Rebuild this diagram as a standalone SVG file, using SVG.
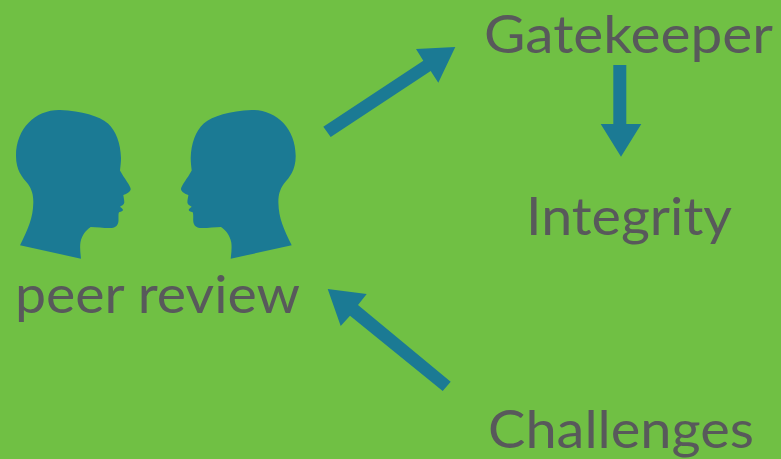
<svg xmlns="http://www.w3.org/2000/svg" width="781" height="459" viewBox="0 0 781 459">
<style>
.bg{fill:#70c044}
.t{fill:#1b7a94}
text{font-family:"Lato","Open Sans","Liberation Sans",sans-serif;font-size:53px;fill:#58595b}
</style>
<defs>
<path id="head" d="M20 245.300L81 258.700C80.300 252 79.700 247 80.500 242C82 235 86 230 90.700 227C97 227 105 228.300 111.700 228C116 227.500 118.500 225 118.500 220C118.500 216 118.300 214 119 212.300C122 211.500 123.500 210.500 122.700 209.300C122 208 120.500 207.500 120 206.700C122 205.500 124.300 204.500 124.300 202.500C124.300 199.500 123.500 197 123.300 195C127 194 130.700 191.500 130.700 189C130.700 186 124 178 120 170.500C120.500 166 121 162 121 158C120.500 143 116 131 108 123.500C99 116 82 111 60 110C36 109.500 16 128 16 156C16 170 22 177 28 184C32 190 33.500 195 33.300 203C33 218 28 229 20 245.300Z"/>
</defs>
<rect class="bg" width="781" height="459"/>
<g id="connectors">
<polygon class="t" points="323.300,126.700 330.700,137 430.700,71 438.300,82.700 455.300,47 416,49 423.300,60.700"/>
<polygon class="t" points="613.300,65 626.300,65 626.300,124 641.300,124 621,156.700 600.700,124 613.300,124"/>
<polygon class="t" points="450.700,381.700 442.700,391 350,315.700 340.700,326 327.700,289 366.700,294 358,305"/>
</g>
<g id="head-left"><use href="#head" class="t"/></g>
<g id="head-right"><use href="#head" class="t" transform="matrix(-1 0 0 1 311.700 0)"/></g>
<g id="peer-review"><text x="15" y="313" textLength="285" lengthAdjust="spacingAndGlyphs">peer review</text></g>
<g id="gatekeeper"><text x="484" y="53" textLength="289" lengthAdjust="spacingAndGlyphs">Gatekeeper</text></g>
<g id="integrity"><text x="526" y="235" textLength="206" lengthAdjust="spacingAndGlyphs">Integrity</text></g>
<g id="challenges"><text x="488" y="448" textLength="266" lengthAdjust="spacingAndGlyphs">Challenges</text></g>
</svg>
